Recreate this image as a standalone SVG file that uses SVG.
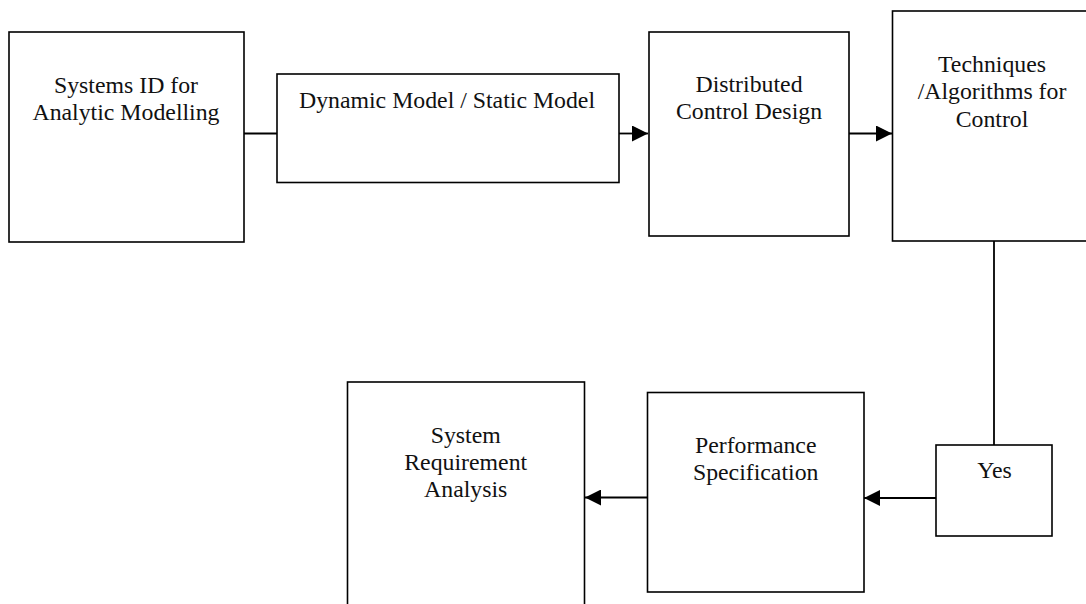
<svg xmlns="http://www.w3.org/2000/svg" width="1086" height="604" viewBox="0 0 1086 604">
  <style>
    .box { fill: #ffffff; stroke: #000000; stroke-width: 1.6; }
    .lbl { font-family: "Liberation Serif", "Times New Roman", serif; font-size: 23.8px; fill: #111111; text-anchor: middle; }
    .wire { fill: none; stroke: #000000; stroke-width: 1.8; }
  </style>
  <defs>
    <marker id="head" markerUnits="userSpaceOnUse" markerWidth="18" markerHeight="16" refX="16" refY="8" orient="auto">
      <path d="M0,0 L16,8 L0,16 Z" fill="#000000"/>
    </marker>
  </defs>
  <rect width="1086" height="604" fill="#ffffff"/>

  <g id="connectors">
    <line class="wire" x1="244" y1="133.5" x2="277" y2="133.5"/>
    <line class="wire" x1="619" y1="133.5" x2="648" y2="133.5" marker-end="url(#head)"/>
    <line class="wire" x1="849" y1="133.5" x2="892" y2="133.5" marker-end="url(#head)"/>
    <line class="wire" x1="994" y1="241" x2="994" y2="445"/>
    <line class="wire" x1="936" y1="498" x2="864" y2="498" marker-end="url(#head)"/>
    <line class="wire" x1="647" y1="497.5" x2="585" y2="497.5" marker-end="url(#head)"/>
  </g>

  <g id="systems-id">
    <rect class="box" x="9" y="32" width="235" height="210"/>
    <text class="lbl" x="126" y="92.5">Systems ID for</text>
    <text class="lbl" x="126" y="120">Analytic Modelling</text>
  </g>

  <g id="model">
    <rect class="box" x="277" y="74" width="342" height="108.5"/>
    <text class="lbl" x="447" y="108.3">Dynamic Model / Static Model</text>
  </g>

  <g id="control-design">
    <rect class="box" x="649" y="32" width="200" height="204"/>
    <text class="lbl" x="749" y="91.7">Distributed</text>
    <text class="lbl" x="749" y="119.3">Control Design</text>
  </g>

  <g id="techniques">
    <rect class="box" x="892.5" y="11" width="200" height="230"/>
    <text class="lbl" x="992" y="71.7">Techniques</text>
    <text class="lbl" x="992" y="99.3">/Algorithms for</text>
    <text class="lbl" x="992" y="126.7">Control</text>
  </g>

  <g id="yes">
    <rect class="box" x="936" y="445" width="116" height="91"/>
    <text class="lbl" x="994.5" y="478.3">Yes</text>
  </g>

  <g id="performance">
    <rect class="box" x="647.5" y="392.5" width="216.5" height="199.5"/>
    <text class="lbl" x="755.7" y="452.7">Performance</text>
    <text class="lbl" x="755.7" y="480">Specification</text>
  </g>

  <g id="requirement">
    <rect class="box" x="347.5" y="382" width="237" height="240"/>
    <text class="lbl" x="465.7" y="442.7">System</text>
    <text class="lbl" x="465.7" y="470">Requirement</text>
    <text class="lbl" x="465.7" y="497.3">Analysis</text>
  </g>
</svg>
